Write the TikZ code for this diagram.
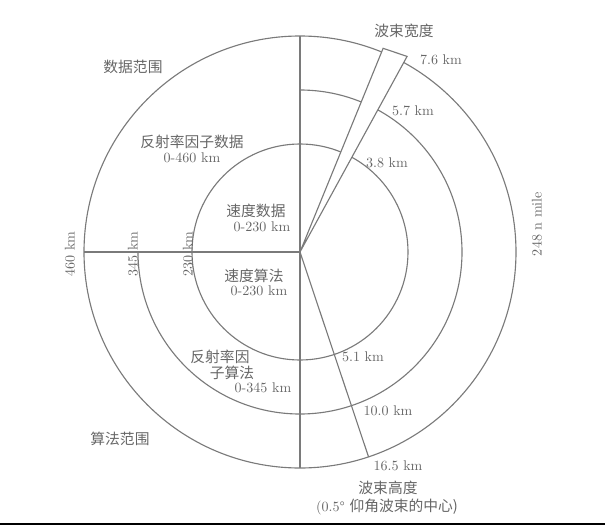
\documentclass[tikz,border=0pt]{standalone}
\usepackage{fontspec}
\newfontfamily\cjk{Noto Sans CJK SC}
\usepackage{xcolor}

\begin{document}
\begin{tikzpicture}[x=0.025cm,y=0.025cm,
  myline/.style={draw=linegray,line width=0.8pt},
  mylabel/.style={text=textgray,inner sep=1pt,font=\fontsize{10}{12}\selectfont},
  mycjk/.style={text=textgray,inner sep=1pt,font=\cjk\fontsize{10.5}{12}\selectfont}]
\definecolor{linegray}{HTML}{7A7A7A}
\definecolor{textgray}{HTML}{666666}
\useasboundingbox (-300,-275) rectangle (305,252);
\coordinate (center) at (0,0);
% rings 230 / 345 / 460 km
\draw [myline] (center) circle [radius=216];
\draw [myline] (center) circle [radius=108];
\draw [myline] (90:162) arc [start angle=90, end angle=-180, radius=162];
% dividing lines
\draw [myline] (center) -- (180:216);
\draw [myline] (90:216) -- (270:216);
\draw [myline] (center) -- (-71.5:216);
% beam
\draw [myline,fill=white] (center) -- (61.3:223) -- (67.8:220) -- cycle;
\draw [black,line width=1.4pt] (-300,-272) -- (305,-272);
% labels
\node [mycjk] (beamwidth) at (104,221) {波束宽度};
\foreach \nm/\pos/\txt in {w76/{(141,192)}/7.6 km,w57/{(113,141)}/5.7 km,w38/{(87,89)}/3.8 km,
    h51/{(63,-105)}/5.1 km,h100/{(88,-159)}/10.0 km,h165/{(98,-214)}/16.5 km}
  {  \node [mylabel] (\nm) at \pos {\txt};}
\node [mycjk] (datarange) at (-167,185) {数据范围};
\node [mycjk] (refdata) at (-108,110) {反射率因子数据};
\node [mylabel] (refdatakm) at (-108,94) {0-460 km};
\node [mycjk] (veldata) at (-44,41) {速度数据};
\node [mylabel] (veldatakm) at (-38,25) {0-230 km};
\node [mycjk] (velalg) at (-46,-24) {速度算法};
\node [mylabel] (velalgkm) at (-41,-39) {0-230 km};
\node [mycjk] (refalga) at (-80,-105) {反射率因};
\node [mycjk] (refalgb) at (-68,-121) {子算法};
\node [mylabel] (refalgkm) at (-37,-136) {0-345 km};
\node [mycjk] (algrange) at (-180,-187) {算法范围};
\node [mycjk,inner sep=0pt] (beamheight) at (88,-236) {波束高度};
\node [mycjk,inner sep=0pt] (beamcenter) at (87,-255) {\rmfamily\fontsize{10}{12}\selectfont(0.5° \cjk\fontsize{10.5}{12}\selectfont 仰角波束的中心)};
\foreach \nm/\pos/\txt in {r460/{(-230,-2)}/460 km,r345/{(-167,-2)}/345 km,r230/{(-112,-2)}/230 km,nmile/{(237,28)}/248 n mile}
  {  \node [mylabel,rotate=90] (\nm) at \pos {\txt};}
\end{tikzpicture}
\end{document}
